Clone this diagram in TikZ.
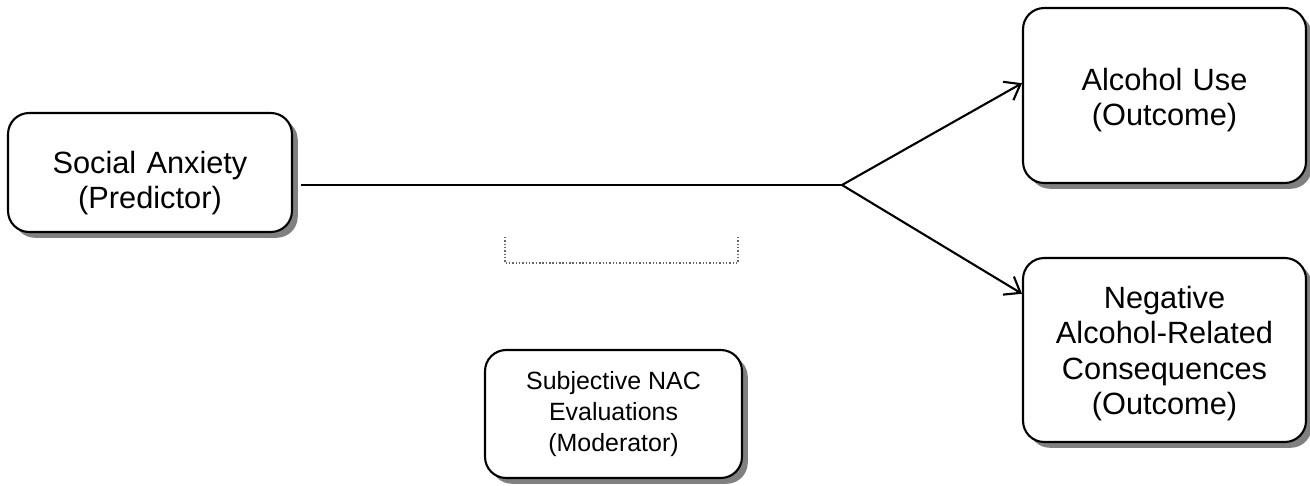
\documentclass[tikz,border=0pt]{standalone}
\usepackage{fontspec}
\setmainfont{Liberation Sans}
\usetikzlibrary{arrows.meta,shadows}

\begin{document}
\begin{tikzpicture}[x=0.02cm, y=-0.02cm,
  box/.style={draw, line width=1.2pt, rounded corners=12pt, fill=white, align=center, inner sep=0pt,
    general shadow={fill=black!50, shadow xshift=3.3pt, shadow yshift=-3.3pt}},
  big/.style={font=\fontsize{17.5}{20.1}\selectfont},
  small/.style={font=\fontsize{14.2}{17.6}\selectfont},
  link/.style={line width=1.2pt, -{Straight Barb[length=8pt,width=12pt]}}]

\useasboundingbox (0,0) rectangle (1310,486);

\node[box, big, minimum width=5.68cm, minimum height=2.38cm, text width=5.4cm] (pred) at (150,172.5)
  {\rule{0pt}{24.8pt}Social Anxiety\\(Predictor)};
\node[box, big, minimum width=5.66cm, minimum height=3.5cm, text width=5.4cm] (alc) at (1164.5,95.5)
  {\rule{0pt}{17.8pt}Alcohol Use\\(Outcome)};
\node[box, big, minimum width=5.66cm, minimum height=3.68cm, text width=5.4cm] (nac) at (1164.5,350)
  {\rule{0pt}{16.8pt}Negative\\Alcohol-Related\\Consequences\\(Outcome)};
\node[box, small, minimum width=5.14cm, minimum height=2.56cm] (mod) at (613.5,414)
  {Subjective NAC\\Evaluations\\(Moderator)};

\coordinate (fork) at (842,185);
\draw[line width=1.2pt] ([xshift=4.5pt]pred.east |- fork) -- (fork);
\draw[link] (fork) -- ([yshift=7pt]alc.west);
\draw[link] (fork) -- ([yshift=32pt]nac.west);

\draw[black!60, line width=0.8pt, dash pattern=on 0.8pt off 1.1pt]
  (505,237) -- (505,263) -- (738,263) -- (738,235);

\end{tikzpicture}
\end{document}
